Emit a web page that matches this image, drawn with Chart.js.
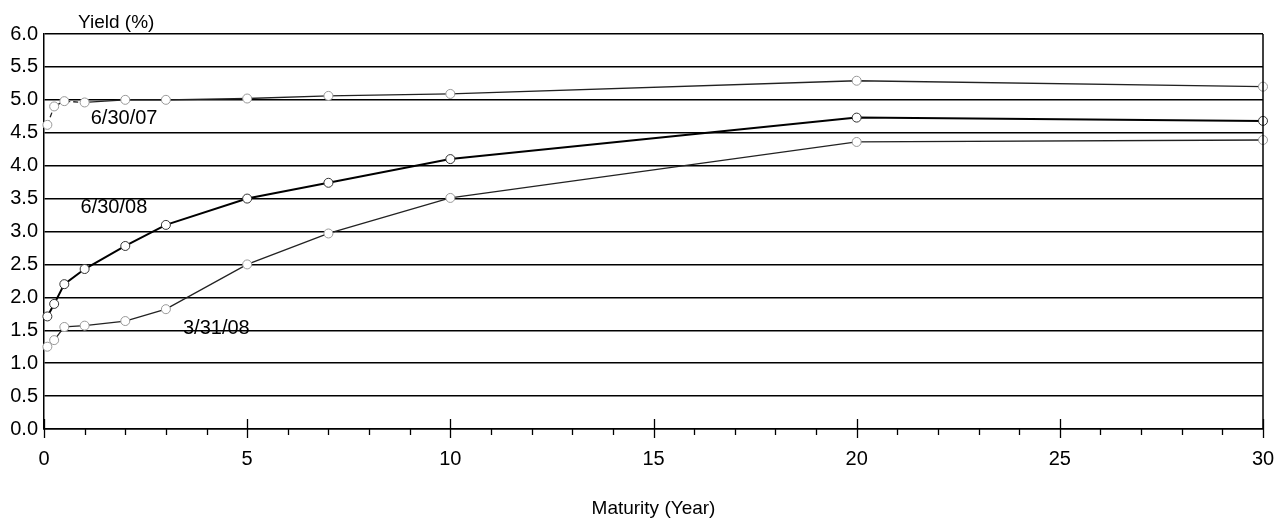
<!DOCTYPE html>
<html>
<head>
<meta charset="utf-8">
<script src="https://cdn.jsdelivr.net/npm/chart.js@4/dist/chart.umd.min.js"></script>
<style>
  html, body { margin:0; padding:0; background:#fff; }
  #wrap { width:1282px; height:520px; position:relative; }
</style>
</head>
<body>
<div id="wrap"><canvas id="c"></canvas></div>
<script>
// maturities in years (1m, 3m, 6m, 1y ... 30y)
const maturities = [0.083, 0.25, 0.5, 1, 2, 3, 5, 7, 10, 20, 30]
const yld_063007 = [4.62, 4.90, 4.98, 4.96, 5.00, 5.00, 5.02, 5.06, 5.09, 5.29, 5.20]
const yld_063008 = [1.71, 1.90, 2.20, 2.43, 2.78, 3.10, 3.50, 3.74, 4.10, 4.73, 4.68]
const yld_033108 = [1.25, 1.35, 1.55, 1.57, 1.64, 1.82, 2.50, 2.97, 3.51, 4.36, 4.39]

const seriesNames = ['6/30/07', '6/30/08', '3/31/08']
const yTicks = [0, 0.5, 1, 1.5, 2, 2.5, 3, 3.5, 4, 4.5, 5, 5.5, 6]
const xLabelStep = 5

// where the series names sit, in data units
const nameSpots = [
  {text: seriesNames[0], x: 1.15, y: 4.72},
  {text: seriesNames[1], x: 0.9, y: 3.37},
  {text: seriesNames[2], x: 3.42, y: 1.52}
]

const FONT = '"Liberation Sans", Arial, sans-serif'
const pts = arr => maturities.map((m,i)=>({x:m, y:arr[i]}))

const extras = {
  id: 'extras',
  afterDraw(chart){
    const {ctx, chartArea:a, scales:{x, y}} = chart
    ctx.save()
    ctx.strokeStyle = '#000'
    ctx.lineWidth = 1.5
    // right frame line
    ctx.beginPath(); ctx.moveTo(a.right, a.top); ctx.lineTo(a.right, a.bottom); ctx.stroke()
    // x ticks: minor every year, major every 5
    ctx.lineWidth = 1.3
    for(let v=0; v<=30; v++){
      const px = Math.round(x.getPixelForValue(v)) + 0.5
      ctx.beginPath()
      if(v % xLabelStep === 0){ ctx.moveTo(px, a.bottom-10); ctx.lineTo(px, a.bottom+9) }
      else { ctx.moveTo(px, a.bottom); ctx.lineTo(px, a.bottom+6) }
      ctx.stroke()
    }
    // texts
    ctx.fillStyle = '#000'
    ctx.font = '20px ' + FONT
    ctx.textBaseline = 'middle'
    ctx.textAlign = 'left'
    for(const s of nameSpots){
      ctx.fillText(s.text, x.getPixelForValue(s.x), y.getPixelForValue(s.y))
    }
    ctx.font = '19px ' + FONT
    ctx.fillText('Yield (%)', 78, 23)
    ctx.textAlign = 'center'
    ctx.fillText('Maturity (Year)', (a.left+a.right)/2, 509)
    ctx.restore()
  }
}

new Chart(document.getElementById('c'), {
  type: 'line',
  data: {
    datasets: [
      {label: seriesNames[0], data: pts(yld_063007), borderColor:'#222', borderWidth:1.3,
        pointRadius:4.5, pointBackgroundColor:'#fff', pointBorderColor:'#999', pointBorderWidth:1,
        segment:{ borderDash: c => c.p0DataIndex < 3 ? [5,3] : undefined }},
      {label: seriesNames[1], data: pts(yld_063008), borderColor:'#000', borderWidth:2,
        pointRadius:4.5, pointBackgroundColor:'#fff', pointBorderColor:'#333', pointBorderWidth:1},
      {label: seriesNames[2], data: pts(yld_033108), borderColor:'#222', borderWidth:1.3,
        pointRadius:4.5, pointBackgroundColor:'#fff', pointBorderColor:'#999', pointBorderWidth:1,
        segment:{ borderDash: c => c.p0DataIndex < 1 ? [4,3] : undefined }}
    ]
  },
  options: {
    responsive: true,
    maintainAspectRatio: false,
    animation: false,
    tension: 0,
    clip: false,
    layout: { padding: { top: 34, right: 19, left: 0, bottom: 0 } },
    plugins: { legend: { display:false }, tooltip: { enabled:false } },
    scales: {
      x: {
        type: 'linear', min: 0, max: 30,
        afterFit: s => { s.height = 91; s.paddingRight = 0; s.paddingLeft = 0 },
        grid: { display: false, drawTicks: false },
        border: { display: true, color: '#000', width: 1.5 },
        afterBuildTicks: s => { s.ticks = Array.from({length: 7}, (_, i) => ({value: i*xLabelStep})) },
        ticks: { padding: 18, color: '#000', font: { family: FONT, size: 20 }, maxRotation: 0 }
      },
      y: {
        min: 0, max: 6,
        afterFit: s => { s.width = 44; s.paddingTop = 0; s.paddingBottom = 0 },
        afterBuildTicks: s => { s.ticks = yTicks.map(v => ({value: v})) },
        grid: { color: '#000', lineWidth: 1.5, drawTicks: false },
        border: { display: true, color: '#000', width: 1.5 },
        ticks: { padding: 6, color: '#000', font: { family: FONT, size: 20 }, callback: v => Number(v).toFixed(1) }
      }
    }
  },
  plugins: [extras]
})
</script>
</body>
</html>
